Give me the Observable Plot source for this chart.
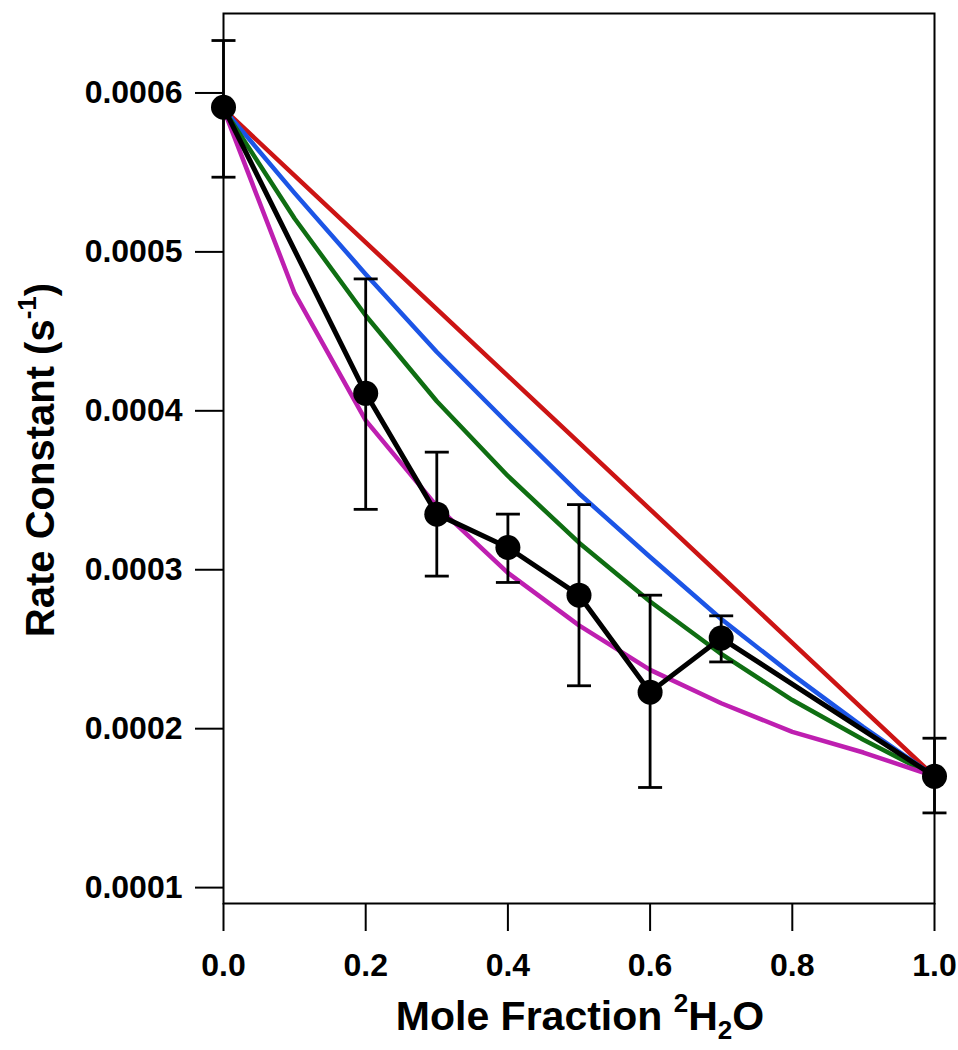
<!DOCTYPE html>
<html>
<head>
<meta charset="utf-8">
<script src="https://cdn.jsdelivr.net/npm/d3@7"></script>
<script src="https://cdn.jsdelivr.net/npm/@observablehq/plot@0.6"></script>
<style>
  html, body { margin: 0; padding: 0; background: white; }
</style>
</head>
<body>
<script>
// Measured data (mole fraction of 2H2O vs rate constant)
const moleFraction = [0, 0.2, 0.3, 0.4, 0.5, 0.6, 0.7, 1.0];
const rateConstant = [0.000591, 0.000411, 0.000335, 0.000314, 0.000284, 0.000223, 0.000257, 0.000170];
const rateHigh     = [0.000633, 0.000483, 0.000374, 0.000335, 0.000341, 0.000284, 0.000271, 0.000194];
const rateLow      = [0.000547, 0.000338, 0.000296, 0.000292, 0.000227, 0.000163, 0.000242, 0.000147];

// Model curves (read at 0.1 steps)
const gridN   = [0, 0.1, 0.2, 0.3, 0.4, 0.5, 0.6, 0.7, 0.8, 0.9, 1.0];
const redK    = [0.00059, 0.000548, 0.000506, 0.000464, 0.000422, 0.00038, 0.000338, 0.000296, 0.000254, 0.000212, 0.00017];
const blueK   = [0.00059, 0.000537, 0.000486, 0.000437, 0.000392, 0.000348, 0.000308, 0.000269, 0.000234, 0.000201, 0.00017];
const greenK  = [0.00059, 0.000521, 0.000460, 0.000406, 0.000359, 0.000317, 0.000280, 0.000247, 0.000218, 0.000193, 0.00017];
const magentaK= [0.00059, 0.000474, 0.000394, 0.000340, 0.000298, 0.000265, 0.000237, 0.000216, 0.000198, 0.000185, 0.00017];

const xTicks = [0, 0.2, 0.4, 0.6, 0.8, 1.0];
const yTicks = [0.0001, 0.0002, 0.0003, 0.0004, 0.0005, 0.0006];

const points = moleFraction.map((n, i) => ({n, k: rateConstant[i], hi: rateHigh[i], lo: rateLow[i]}));
const curves = [
  {name: "red", color: "#cc1414", vals: redK},
  {name: "blue", color: "#1c55e6", vals: blueK},
  {name: "green", color: "#0f6e12", vals: greenK},
  {name: "magenta", color: "#be1fb0", vals: magentaK}
].flatMap(c => gridN.map((n, i) => ({name: c.name, color: c.color, n, k: c.vals[i]})));

const capSymbol = {
  draw(ctx, size) {
    const w = Math.sqrt(size / Math.PI);
    ctx.moveTo(-w, 0);
    ctx.lineTo(w, 0);
  }
};

const font = "'Liberation Sans', Arial, Helvetica, sans-serif";

const chart = Plot.plot({
  width: 958,
  height: 1050,
  marginLeft: 223,
  marginRight: 24,
  marginTop: 13,
  marginBottom: 147,
  x: {domain: [0, 1]},
  y: {domain: [0.00009, 0.00065]},
  style: {fontFamily: font, background: "white", color: "black"},
  marks: [
    Plot.axisX({ticks: xTicks, tickFormat: d3.format(".1f"), tickSize: 28, tickPadding: 22,
      fontSize: 32, fontWeight: "bold", strokeWidth: 2, label: null}),
    Plot.axisY({ticks: yTicks, tickFormat: d3.format(".4f"), tickSize: 28, tickPadding: 13,
      fontSize: 32, fontWeight: "bold", strokeWidth: 2, label: null}),
    Plot.frame({strokeWidth: 2}),
    Plot.line(curves, {x: "n", y: "k", z: "name", stroke: "color", strokeWidth: 4.5}),
    Plot.line(points, {x: "n", y: "k", stroke: "black", strokeWidth: 5}),
    Plot.ruleX(points, {x: "n", y1: "lo", y2: "hi", stroke: "black", strokeWidth: 2.8}),
    Plot.dot(points, {x: "n", y: "hi", symbol: capSymbol, r: 12, stroke: "black", strokeWidth: 2.8}),
    Plot.dot(points, {x: "n", y: "lo", symbol: capSymbol, r: 12, stroke: "black", strokeWidth: 2.8}),
    Plot.dot(points, {x: "n", y: "k", r: 12.5, fill: "black", stroke: "none"})
  ]
});

document.body.append(chart);

const svg = d3.select(chart);
// X axis title
const xt = svg.append("text")
  .attr("x", 580).attr("y", 1030)
  .attr("text-anchor", "middle")
  .attr("font-family", font).attr("font-weight", "bold").attr("font-size", 41)
  .attr("fill", "black");
xt.append("tspan").text("Mole Fraction ");
xt.append("tspan").attr("font-size", 26).attr("dy", -18).text("2");
xt.append("tspan").attr("dy", 18).text("H");
xt.append("tspan").attr("font-size", 26).attr("dy", 9).text("2");
xt.append("tspan").attr("dy", -9).text("O");

// Y axis title
const yt = svg.append("text")
  .attr("transform", "translate(54,460) rotate(-90)")
  .attr("text-anchor", "middle")
  .attr("font-family", font).attr("font-weight", "bold").attr("font-size", 40)
  .attr("fill", "black");
yt.append("tspan").text("Rate Constant (s");
yt.append("tspan").attr("font-size", 26).attr("dy", -18).text("-1");
yt.append("tspan").attr("dy", 18).text(")");
</script>
</body>
</html>
